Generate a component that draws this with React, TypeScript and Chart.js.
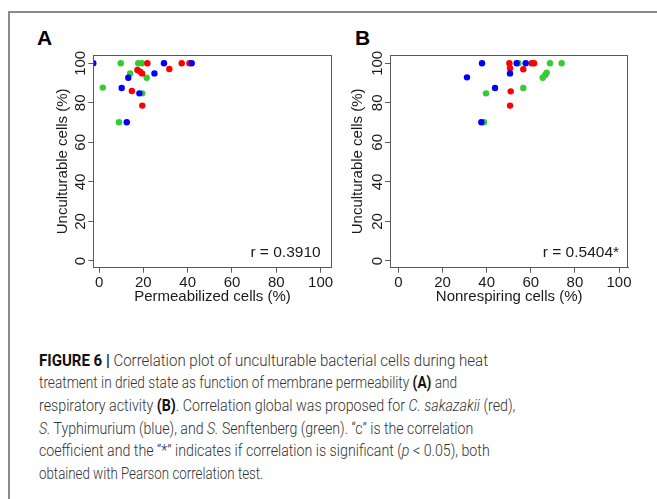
import React, { useEffect, useLayoutEffect, useRef } from "react";
import { Chart, registerables } from "chart.js";

Chart.register(...registerables);

// ---- data ----
const axisTicks = [0, 20, 40, 60, 80, 100];

// Panel A: permeabilized cells (%) vs unculturable cells (%)
const permRedX = [17.3, 18.5, 19.4, 21.8, 14.8, 19.5, 31.7, 37.3, 40.8];
const permRedY = [96.6, 95.8, 94.9, 100, 86.0, 78.6, 97.1, 100, 100];
const permBlueX = [-2.6, 13.2, 10.2, 18.2, 12.5, 25.0, 29.3, 41.8];
const permBlueY = [100, 92.7, 87.5, 84.8, 70.2, 94.9, 100, 100];
const permGreenX = [9.8, 1.7, 14.0, 17.7, 19.3, 21.5, 19.5, 9.0];
const permGreenY = [100, 87.7, 94.9, 100, 100, 92.7, 84.8, 70.2];

// Panel B: nonrespiring cells (%) vs unculturable cells (%)
const respRedX = [50.3, 50.6, 56.6, 60.4, 61.5, 50.9, 50.6];
const respRedY = [100, 97.5, 97.0, 100, 100, 85.8, 78.6];
const respBlueX = [37.9, 31.1, 43.8, 50.6, 53.6, 57.7, 37.6];
const respBlueY = [100, 92.9, 87.5, 94.9, 100, 100, 70.2];
const respGreenX = [54.4, 68.7, 74.0, 39.7, 56.6, 65.4, 66.5, 67.2, 38.8];
const respGreenY = [100, 100, 100, 84.8, 87.5, 92.7, 94.1, 95.2, 70.2];

const rValueA = "r = 0.3910";
const rValueB = "r = 0.5404*";

const RED = "#ff0000";
const BLUE = "#0000ff";
const GREEN = "#33cc33";
const AXIS = "#5a5a5a";
const TEXT = "#1a1a1a";
const FONT = "'Liberation Sans', Arial, sans-serif";

const zip = (xs: number[], ys: number[]) => xs.map((x, i) => ({ x, y: ys[i] }));

const decorPlugin = {
  id: "stataDecor",
  afterDraw(chart: any, _args: any, opts: any) {
    const { ctx, chartArea: a, scales } = chart;
    ctx.save();
    // plot box
    ctx.strokeStyle = AXIS;
    ctx.lineWidth = 1;
    const l = Math.round(a.left) + 0.5;
    const t = Math.round(a.top) + 0.5;
    const r = Math.round(a.right) - 0.5;
    const b = Math.round(a.bottom) - 0.5;
    ctx.strokeRect(l, t, r - l, b - t);
    // rotated y tick labels
    ctx.fillStyle = TEXT;
    ctx.font = `15px ${FONT}`;
    ctx.textAlign = "center";
    ctx.textBaseline = "middle";
    for (const tk of scales.y.ticks) {
      const py = scales.y.getPixelForValue(tk.value);
      ctx.save();
      ctx.translate(a.left - 12, py);
      ctx.rotate(-Math.PI / 2);
      ctx.fillText(String(tk.value), 0, 0);
      ctx.restore();
    }
    // correlation coefficient
    ctx.textAlign = "right";
    ctx.font = `15.5px ${FONT}`;
    ctx.fillText(opts.rText, scales.x.getPixelForValue(opts.rx), scales.y.getPixelForValue(opts.ry));
    ctx.restore();
  },
};

type PanelProps = {
  left: number;
  top: number;
  width: number;
  height: number;
  yAxisWidth: number;
  xAxisHeight: number;
  padRight: number;
  padTop: number;
  yTitlePad: number;
  xTitlePad: number;
  xMin: number;
  xMax: number;
  xTitle: string;
  rText: string;
  red: { x: number; y: number }[];
  blue: { x: number; y: number }[];
  green: { x: number; y: number }[];
};

function Panel(p: PanelProps) {
  const ref = useRef<HTMLCanvasElement>(null);
  useEffect(() => {
    if (!ref.current) return;
    const ds = (data: any[], color: string) => ({
      data,
      backgroundColor: color,
      borderColor: color,
      pointRadius: 3.2,
      pointBorderWidth: 0,
      showLine: false,
    });
    const chart = new Chart(ref.current, {
      type: "scatter",
      data: {
        datasets: [ds(p.blue, BLUE), ds(p.red, RED), ds(p.green, GREEN)],
      },
      plugins: [decorPlugin],
      options: {
        animation: false,
        responsive: false,
        devicePixelRatio: 1,
        layout: { padding: { left: 0, right: p.padRight, top: p.padTop, bottom: 0 } },
        plugins: {
          legend: { display: false },
          tooltip: { enabled: false },
          stataDecor: { rText: p.rText, rx: 100, ry: 4 },
        } as any,
        scales: {
          x: {
            type: "linear",
            min: p.xMin,
            max: p.xMax,
            afterBuildTicks: (s: any) => {
              s.ticks = axisTicks.map((v) => ({ value: v }));
            },
            afterFit: (s: any) => {
              s.height = p.xAxisHeight;
            },
            grid: { drawOnChartArea: false, drawTicks: true, tickLength: 5, color: AXIS },
            border: { display: true, color: AXIS },
            ticks: {
              font: { family: FONT, size: 15 },
              color: TEXT,
              padding: 1,
              maxRotation: 0,
              autoSkip: false,
              callback: (v: any) => String(v),
            },
            title: {
              display: true,
              text: p.xTitle,
              font: { family: FONT, size: 15 },
              color: TEXT,
              padding: { top: 0, bottom: p.xTitlePad },
            },
          },
          y: {
            type: "linear",
            min: -3.4,
            max: 104.2,
            afterBuildTicks: (s: any) => {
              s.ticks = axisTicks.map((v) => ({ value: v }));
            },
            afterFit: (s: any) => {
              s.width = p.yAxisWidth;
            },
            grid: { drawOnChartArea: false, drawTicks: true, tickLength: 5, color: AXIS },
            border: { display: true, color: AXIS },
            ticks: { display: false },
            title: {
              display: true,
              text: "Unculturable cells (%)",
              font: { family: FONT, size: 15 },
              color: TEXT,
              padding: { top: p.yTitlePad, bottom: 0 },
            },
          },
        },
      },
    });
    return () => chart.destroy();
  }, []);
  return (
    <canvas
      ref={ref}
      width={p.width}
      height={p.height}
      style={{ position: "absolute", left: p.left, top: p.top, width: p.width, height: p.height }}
    />
  );
}

const boldStyle = { color: "#111", fontWeight: 700 } as const;

// layout: target rendered width of each caption line (px)
const captionLineWidths = [449, 418, 476, 434, 451, 224];

const captionLines: React.ReactNode[] = [
  <>
    <b style={boldStyle}>FIGURE 6 |</b> Correlation plot of unculturable bacterial cells during heat
  </>,
  <>
    treatment in dried state as function of membrane permeability <b style={boldStyle}>(A)</b> and
  </>,
  <>
    respiratory activity <b style={boldStyle}>(B)</b>. Correlation global was proposed for <i>C. sakazakii</i> (red),
  </>,
  <>
    <i>S.</i> Typhimurium (blue), and <i>S.</i> Senftenberg (green). “c” is the correlation
  </>,
  <>
    coefficient and the “*” indicates if correlation is significant (<i>p</i> &lt; 0.05), both
  </>,
  <>obtained with Pearson correlation test.</>,
];

function CaptionLine({ children, target }: { children: React.ReactNode; target: number }) {
  const ref = useRef<HTMLSpanElement>(null);
  useLayoutEffect(() => {
    const el = ref.current;
    if (!el) return;
    el.style.transform = "none";
    const w = el.offsetWidth;
    if (w > 0) el.style.transform = `scaleX(${target / w})`;
  }, [target]);
  return (
    <div>
      <span ref={ref} style={{ display: "inline-block", transformOrigin: "0 50%" }}>
        {children}
      </span>
    </div>
  );
}

export default function App() {
  return (
    <div
      style={{
        position: "absolute",
        left: 0,
        top: 0,
        width: 657,
        height: 499,
        overflow: "hidden",
        background: "#fff",
      }}
    >
      <div
        style={{
          position: "absolute",
          left: 8,
          top: 11,
          width: 700,
          height: 600,
          borderLeft: "2px solid #8a8a8a",
          borderTop: "2px solid #8a8a8a",
        }}
      />
      <div style={{ position: "absolute", left: 37, top: 26, font: `bold 21px ${FONT}`, color: "#000" }}>A</div>
      <div style={{ position: "absolute", left: 355, top: 26, font: `bold 21px ${FONT}`, color: "#000" }}>B</div>
      <Panel
        left={30}
        top={40}
        width={310}
        height={275}
        yAxisWidth={63.3}
        xAxisHeight={47.3}
        padRight={8.3}
        padTop={15}
        yTitlePad={24.3}
        xTitlePad={9.3}
        xMin={-2.6}
        xMax={105}
        xTitle="Permeabilized cells (%)"
        rText={rValueA}
        red={zip(permRedX, permRedY)}
        blue={zip(permBlueX, permBlueY)}
        green={zip(permGreenX, permGreenY)}
      />
      <Panel
        left={340}
        top={40}
        width={300}
        height={275}
        yAxisWidth={50}
        xAxisHeight={47.3}
        padRight={11.7}
        padTop={15}
        yTitlePad={9.3}
        xTitlePad={9.3}
        xMin={-3.8}
        xMax={104.2}
        xTitle="Nonrespiring cells (%)"
        rText={rValueB}
        red={zip(respRedX, respRedY)}
        blue={zip(respBlueX, respBlueY)}
        green={zip(respGreenX, respGreenY)}
      />
      <div
        style={{
          position: "absolute",
          left: 39,
          top: 348.5,
          fontFamily: "Roboto, 'Liberation Sans', sans-serif",
          fontWeight: 300,
          fontSize: 17,
          lineHeight: "22.7px",
          color: "#333",
          whiteSpace: "nowrap",
        }}
      >
        {captionLines.map((ln, i) => (
          <CaptionLine key={i} target={captionLineWidths[i]}>
            {ln}
          </CaptionLine>
        ))}
      </div>
    </div>
  );
}
